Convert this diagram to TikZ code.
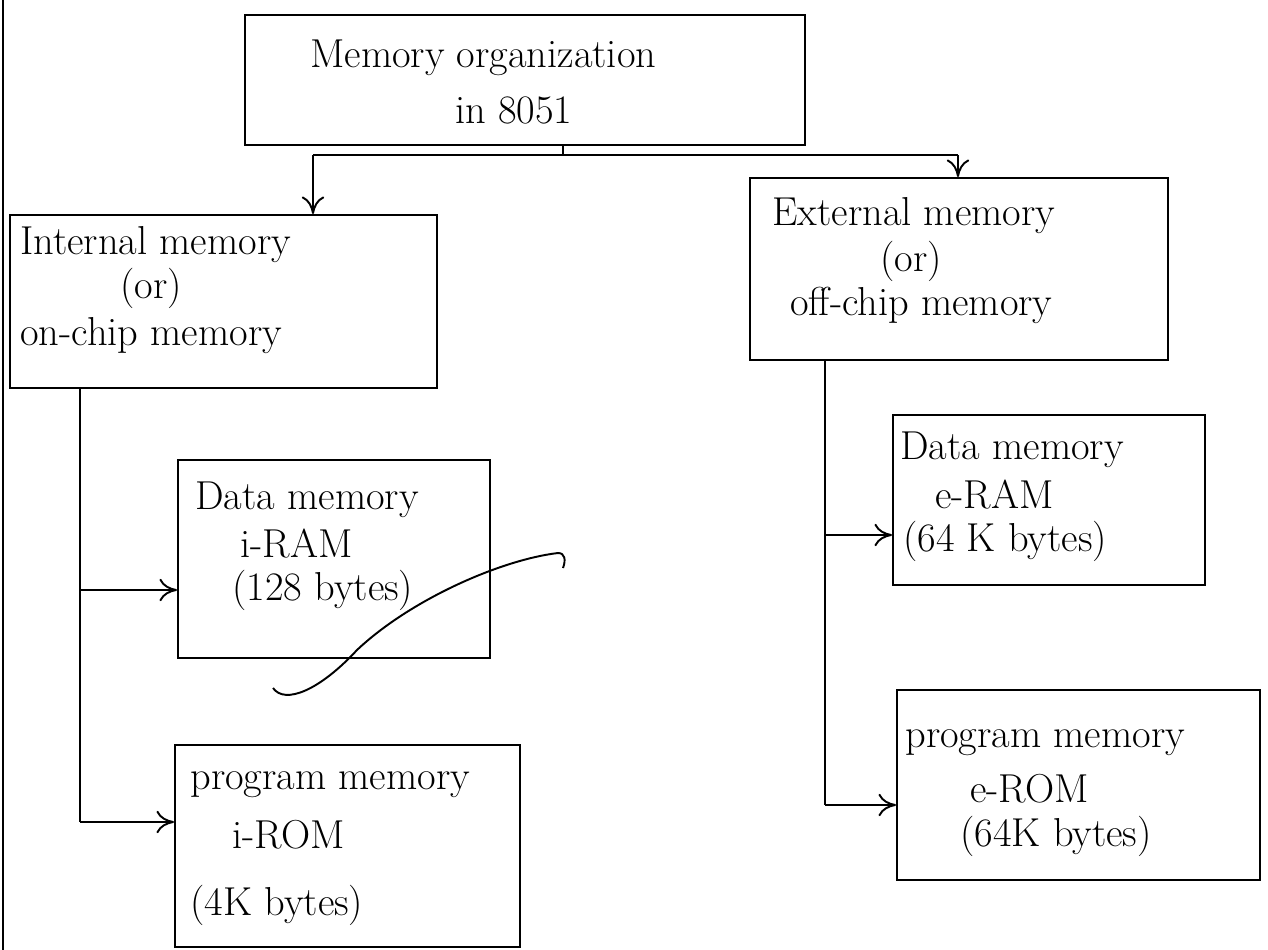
\documentclass[tikz,border=0pt]{standalone}
\usetikzlibrary{arrows.meta}
\begin{document}
\begin{tikzpicture}[x=0.02cm,y=-0.02cm,
  box/.style={draw, line width=1.2pt, rectangle, inner sep=0pt},
  txt/.style={anchor=west, inner sep=0pt, font=\fontsize{23}{26}\selectfont},
  conn/.style={line width=1.1pt},
  arr/.style={line width=1.1pt, -{To[length=3.5mm,width=4.5mm]}}]
\useasboundingbox (0,0) rectangle (1268,950);
% page margin line
\draw[line width=1.2pt] (3,0) -- (3,950);

% boxes
\node[box, minimum width=11.2cm, minimum height=2.6cm] (top) at (525,80) {};
\node[box, minimum width=8.54cm, minimum height=3.46cm] (int) at (223.5,301.5) {};
\node[box, minimum width=8.36cm, minimum height=3.64cm] (ext) at (959,269) {};
\node[box, minimum width=6.24cm, minimum height=3.96cm] (dl) at (334,559) {};
\node[box, minimum width=6.9cm, minimum height=4.04cm] (pl) at (347.5,846) {};
\node[box, minimum width=6.24cm, minimum height=3.4cm] (dr) at (1049,500) {};
\node[box, minimum width=7.26cm, minimum height=3.8cm] (pr) at (1078.5,785) {};

% texts
\node[txt] (t1) at (310,58) {Memory organization};
\node[txt] (t2) at (455,110) {in 8051};
\node[txt] (i1) at (20,245) {Internal memory};
\node[txt] (i2) at (120,288) {(or)};
\node[txt] (i3) at (20,336) {on-chip memory};
\node[txt] (e1) at (772,216) {External memory};
\node[txt] (e2) at (880,261) {(or)};
\node[txt] (e3) at (790,305) {off-chip memory};
\node[txt] (d1) at (195,500) {Data memory};
\node[txt] (d2) at (240,544) {i-RAM};
\node[txt] (d3) at (232,590) {(128 bytes)};
\node[txt] (p1) at (190,785) {program memory};
\node[txt] (p2) at (232,835) {i-ROM};
\node[txt] (p3) at (190,905) {(4K bytes)};
\node[txt] (r1) at (900,450) {Data memory};
\node[txt] (r2) at (935,495) {e-RAM};
\node[txt] (r3) at (903,541) {(64 K bytes)};
\node[txt] (q1) at (905,743) {program memory};
\node[txt] (q2) at (970,789) {e-ROM};
\node[txt] (q3) at (960,836) {(64K bytes)};

% connectors
\coordinate (split) at (563,155);
\coordinate (sl) at (313,155);
\coordinate (sr) at (958,155);
\draw[conn] (top.south -| split) -- (split);
\draw[conn] (sl) -- (sr);
\draw[arr] (sl) -- (sl |- int.north);
\draw[arr] (sr) -- (sr |- ext.north);

\coordinate (lv) at (80,388);
\coordinate (lb1) at (80,590);
\coordinate (lb2) at (80,822);
\draw[conn] (lv |- int.south) -- (lb2);
\draw[arr] (lb1) -- (lb1 -| dl.west);
\draw[arr] (lb2) -- (lb2 -| pl.west);

\coordinate (rv) at (825,360);
\coordinate (rb1) at (825,535);
\coordinate (rb2) at (825,805);
\draw[conn] (rv |- ext.south) -- (rb2);
\draw[arr] (rb1) -- (rb1 -| dr.west);
\draw[arr] (rb2) -- (rb2 -| pr.west);

% stray pen stroke
\draw[line width=1.1pt] (273,688) .. controls (285,705) and (320,690) .. (357,650)
  .. controls (410,600) and (500,560) .. (558,553)
  .. controls (565,553) and (566,560) .. (563,568);
\end{tikzpicture}
\end{document}
